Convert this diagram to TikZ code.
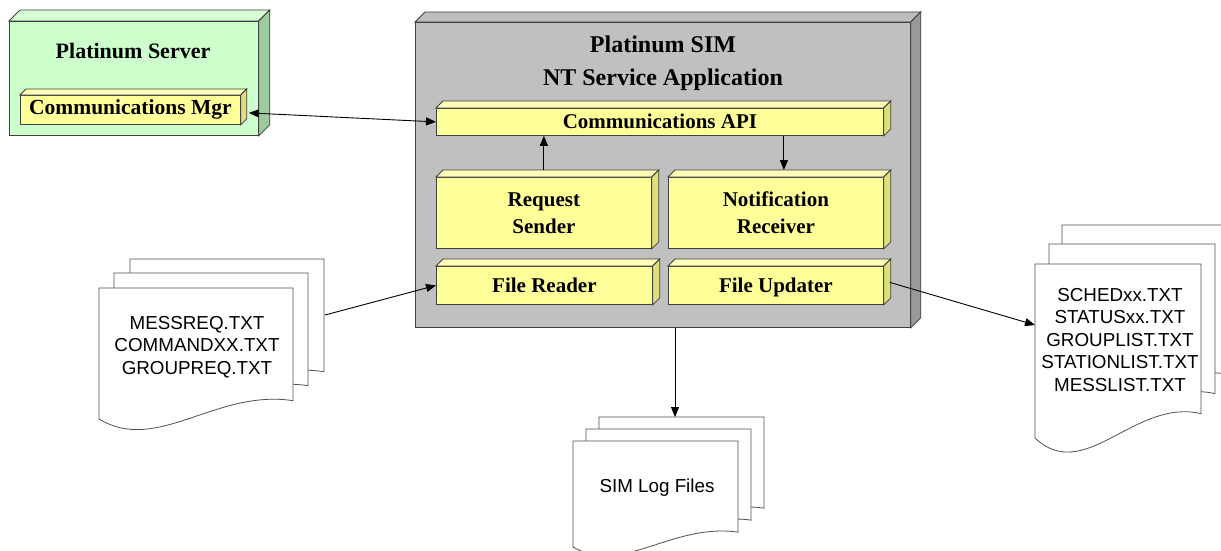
\documentclass[tikz,border=0pt]{standalone}
\usepackage{fontspec}
\setmainfont{Liberation Serif}
\setsansfont{Liberation Sans}
\usetikzlibrary{arrows.meta,calc}
\definecolor{edgegray}{HTML}{404040}
\definecolor{docgray}{HTML}{505050}
\definecolor{gfront}{HTML}{CCFFCC}
\definecolor{gtop}{HTML}{D6FFD6}
\definecolor{gside}{HTML}{9CCC9C}
\definecolor{sfront}{HTML}{C0C0C0}
\definecolor{stop}{HTML}{BDBDBD}
\definecolor{sside}{HTML}{999999}
\definecolor{yfront}{HTML}{FFFF99}
\definecolor{ytop}{HTML}{FFFFB8}
\definecolor{yside}{HTML}{DEDE7A}
\tikzset{
  edge/.style={draw=edgegray, line width=0.8pt},
  boxfront/.style={edge, anchor=north west, inner sep=0pt, align=center,
    font=\bfseries\fontsize{21}{27}\selectfont},
  ybox/.style={boxfront, fill=yfront},
  oneline/.style={text height=14pt, text depth=4.5pt},
  centredline/.style={text height=16pt, text depth=2pt},
  docpg/.style={draw=docgray, line width=0.8pt, fill=white},
  doctext/.style={font=\sffamily\fontsize{18.8}{22.5}\selectfont, align=center, inner sep=0pt},
  titletext/.style={font=\bfseries\fontsize{24}{32}\selectfont, anchor=base, inner sep=0pt},
  arr/.style={-{Triangle[length=10pt,width=8pt]}, line width=0.9pt, black},
  arrboth/.style={{Triangle[length=10pt,width=8pt]}-{Triangle[length=10pt,width=8pt]}, line width=0.9pt, black},
}
\newcommand\cubefaces[4]{%
  \filldraw[edge, fill=#3] (#1.north west) -- ++(#2,-#2) -- ($(#1.north east)+(#2,-#2)$) -- (#1.north east) -- cycle;
  \filldraw[edge, fill=#4] (#1.north east) -- ++(#2,-#2) -- ($(#1.south east)+(#2,-#2)$) -- (#1.south east) -- cycle;
}
\newcommand\docpage[4]{%
  \filldraw[docpg] (#1,#2) -- (#1+#3,#2) -- (#1+#3,#2+0.86*#4)
    .. controls (#1+0.6*#3,#2+0.77*#4) and (#1+0.3*#3,#2+1.27*#4) .. (#1,#2+#4) -- cycle;
}
\begin{document}
\begin{tikzpicture}[x=1pt,y=-1pt]
\useasboundingbox (0,0) rectangle (1221,551);
\clip (0,0) rectangle (1221,551);

% Platinum Server
\node[boxfront, fill=gfront, minimum width=249pt, minimum height=114pt] (srv) at (9,21) {};
\cubefaces{srv}{11}{gtop}{gside}
\node[titletext, font=\bfseries\fontsize{22}{26}\selectfont] (srvt) at (133,59) {Platinum Server};
\node[ybox, oneline, minimum width=220pt, minimum height=29pt, font=\bfseries\fontsize{21.5}{26}\selectfont] (mgr) at (20,95) {Communications Mgr};
\cubefaces{mgr}{6}{ytop}{yside}

% Platinum SIM
\node[boxfront, fill=sfront, minimum width=495pt, minimum height=305pt] (sim) at (415,22) {};
\cubefaces{sim}{10}{stop}{sside}
\node[titletext] (simt1) at (663,53) {Platinum SIM};
\node[titletext] (simt2) at (663,85) {NT Service Application};

\node[ybox, centredline, minimum width=447pt, minimum height=27pt] (api) at (436,108) {Communications API};
\cubefaces{api}{7}{ytop}{yside}
\node[ybox, minimum width=215pt, minimum height=71pt] (rs) at (436,177) {Request\\Sender};
\cubefaces{rs}{7}{ytop}{yside}
\node[ybox, minimum width=215pt, minimum height=71pt] (nr) at (668,177) {Notification\\Receiver};
\cubefaces{nr}{7}{ytop}{yside}
\node[ybox, centredline, minimum width=216pt, minimum height=38pt] (fr) at (436,266) {File Reader};
\cubefaces{fr}{7}{ytop}{yside}
\node[ybox, centredline, minimum width=215pt, minimum height=38pt] (fu) at (668,266) {File Updater};
\cubefaces{fu}{7}{ytop}{yside}

% document stacks
\docpage{130}{259}{194}{131}
\docpage{114}{273}{194}{131}
\docpage{99}{288}{194}{131}
\node[doctext] (ldt) at (197,347) {MESSREQ.TXT\\COMMANDXX.TXT\\GROUPREQ.TXT};

\docpage{1062}{225}{166}{174}
\docpage{1049}{244}{166}{174}
\docpage{1035}{264}{166}{174}
\node[doctext] (rdt) at (1120,340) {SCHEDxx.TXT\\STATUSxx.TXT\\GROUPLIST.TXT\\STATIONLIST.TXT\\MESSLIST.TXT};

\docpage{599}{417}{165}{106}
\docpage{586}{429}{165}{106}
\docpage{573}{441}{165}{106}
\node[doctext] (bdt) at (657,488) {SIM Log Files};

% connectors
\coordinate (ldin) at (325,315);
\coordinate (rdin) at (1035,325);
\coordinate (bdin) at (675,417);
\draw[arrboth] ($(mgr.east)+(8,3)$) -- (api.west);
\draw[arr] ($(rs.north)+(0,-7)$) -- (rs.north |- api.south);
\draw[arr] ($(api.south)+(124,0)$) -- ($(nr.north)+(8,-7)$);
\draw[arr] (ldin) -- (fr.west);
\draw[arr] ($(fu.east)+(6,-3)$) -- (rdin);
\draw[arr] (sim.south -| bdin) -- (bdin);
\end{tikzpicture}
\end{document}
